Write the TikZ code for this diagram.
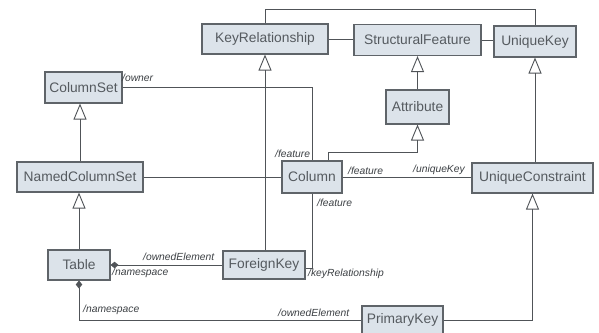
\documentclass[tikz,border=0pt]{standalone}
\usepackage{fontspec}
\setmainfont{Liberation Sans}
\usetikzlibrary{arrows.meta,calc}
\definecolor{boxfill}{RGB}{220,227,234}
\definecolor{boxline}{RGB}{95,100,105}
\definecolor{wire}{RGB}{80,84,88}
\definecolor{ink}{RGB}{85,90,95}
\definecolor{roleink}{RGB}{60,64,68}
\tikzset{
  cls/.style={draw=boxline, line width=1.1pt, fill=boxfill, text=ink,
    inner sep=0pt, font=\fontsize{13.8}{15}\selectfont},
  role/.style={inner sep=0pt, anchor=west, text=roleink,
    font=\fontsize{10.3}{11}\selectfont\itshape},
  wireline/.style={draw=wire, line width=0.9pt},
  gen/.style={wireline, -{Triangle[open, length=16pt, width=13pt, line width=0.9pt]}},
  comp/.style={wireline, {Diamond[length=8pt, width=6.5pt]}-}
}
\begin{document}
\begin{tikzpicture}[x=1pt, y=-1pt]
\fill[white] (0,0) rectangle (599,332);
\useasboundingbox (0,0) rectangle (599,332);
\clip (0,0) rectangle (599,332);

% classes
\node[cls, minimum width=126pt, minimum height=30pt] (kr)   at (265,39)    {KeyRelationship};
\node[cls, minimum width=127pt, minimum height=31pt] (sf)   at (417.5,40)  {StructuralFeature};
\node[cls, minimum width=82pt,  minimum height=31pt] (uk)   at (535,41.5)  {UniqueKey};
\node[cls, minimum width=77pt,  minimum height=31pt] (cs)   at (83.5,87.5) {ColumnSet};
\node[cls, minimum width=63pt,  minimum height=34pt] (attr) at (417.5,107) {Attribute};
\node[cls, minimum width=126pt, minimum height=30pt] (ncs)  at (80,177)    {NamedColumnSet};
\node[cls, minimum width=60pt,  minimum height=32pt] (col)  at (312,177)   {Column};
\node[cls, minimum width=121pt, minimum height=30pt] (uc)   at (532.5,178) {UniqueConstraint};
\node[cls, minimum width=62pt,  minimum height=30pt] (tab)  at (79,265)    {Table};
\node[cls, minimum width=82pt,  minimum height=28pt] (fk)   at (264,265)   {ForeignKey};
\node[cls, minimum width=81pt,  minimum height=28pt] (pk)   at (402.5,320) {PrimaryKey};

% plain associations along the top row
\draw[wireline] (kr.north) -- ++(0,-14) -| (uk.north);
\draw[wireline] (kr.east) -- (sf.west |- kr.east);
\draw[wireline] (sf.east) -- (uk.west |- sf.east);

% generalizations
\draw[gen] (kr.south |- fk.north) -- (kr.south);
\draw[gen] (attr.north) -- (attr.north |- sf.south);
\draw[gen] ([xshift=16pt]col.north) -- ++(0,-8) -| (attr.south);
\draw[gen] (uk.south |- uc.north) -- (uk.south);
\draw[gen] (pk.east) -| (uc.south);
\draw[gen] (ncs.north) -- (ncs.north |- cs.south);
\draw[gen] (tab.north) -- (tab.north |- ncs.south);

% associations with roles
\draw[wireline] (cs.east) -| (col.north);
\draw[wireline] (ncs.east) -- (col.west);
\draw[wireline] (col.east) -- (col.east -| uc.west);
\draw[wireline] (col.south) |- ([yshift=-3pt]fk.east);

% compositions owned by Table
\draw[comp] (tab.east) -- (tab.east -| fk.west);
\draw[comp] (tab.south) |- (pk.west);

% role names
\node[role] (rOwner)  at (122,78)  {/owner};
\node[role] (rFeatA)  at (275,154) {/feature};
\node[role] (rFeatB)  at (348,171) {/feature};
\node[role] (rUKey)   at (413,170) {/uniqueKey};
\node[role] (rFeatC)  at (317,203) {/feature};
\node[role] (rKeyRel) at (308,274) {/keyRelationship};
\node[role] (rOwnA)   at (143,257) {/ownedElement};
\node[role] (rNsA)    at (112,273) {/namespace};
\node[role] (rNsB)    at (83,310)  {/namespace};
\node[role] (rOwnB)   at (278,313) {/ownedElement};
\end{tikzpicture}
\end{document}
